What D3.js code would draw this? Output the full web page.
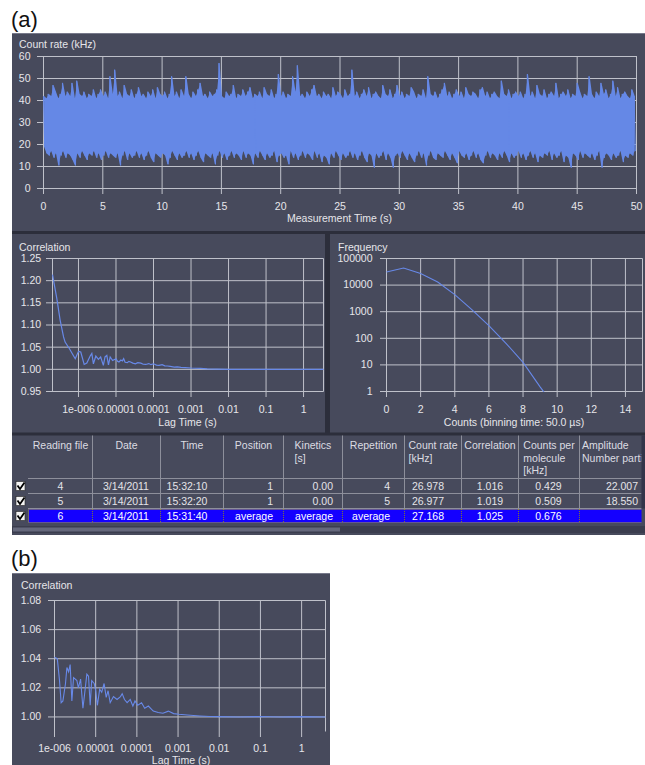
<!DOCTYPE html>
<html>
<head>
<meta charset="utf-8">
<script src="https://cdn.jsdelivr.net/npm/d3@7"></script>
<style>
  html, body { margin: 0; padding: 0; background: #fff; }
  svg { display: block; }
</style>
</head>
<body>
<svg id="fig" width="645" height="765"></svg>
<script>
// ---------- Count-rate trace: per-bin extremes (kHz), bins of 0.2 s ----------
const traceBin = 0.2;
const traceHigh = [
  42,41,43,42,47,44,41,43,48,42,  44,42,48,41,49,43,42,44,41,43,
  42,45,41,43,45,42,44,41,51,43,  54,42,44,41,47,43,42,45,41,43,
  46,42,43,41,44,42,45,41,46,43,  42,44,41,43,51,42,44,41,45,42,
  51,43,41,44,42,45,48,42,43,41,  44,42,43,45,57,42,41,44,42,43,
  47,41,43,42,45,42,44,46,41,43,  42,44,41,46,43,42,45,41,43,52,
  42,44,41,43,42,51,44,56,42,43,  41,44,42,45,47,42,43,41,44,42,
  43,41,46,42,44,43,41,45,42,43,  54,42,44,41,43,45,42,46,41,43,
  44,42,41,47,43,42,45,41,43,47,  42,44,41,43,42,46,44,41,43,42,
  45,41,51,43,42,44,41,43,45,48,  42,44,41,43,45,42,44,41,46,43,
  42,44,43,41,45,46,42,44,41,43,  44,42,41,49,43,42,45,41,43,44,
  42,44,41,43,52,42,44,41,47,43,  42,45,41,43,44,42,48,41,43,44,
  42,45,41,43,42,48,44,41,43,42,  51,43,41,44,42,48,43,45,41,43,
  49,42,46,41,43,44,42,41,45,42
];
const traceLow = [
  19,16,15,17,14,16,10.5,15,17,14,  16,15,13,10.5,16,14,17,15,13,16,
  15,17,14,16,13,15,17,14,16,15,    14,16,10.5,15,17,13,16,14,15,17,
  14,16,13,15,17,14,12,16,15,14,    16,15,11,14,17,15,13,16,14,15,
  17,14,16,13,15,17,14,12,16,15,    14,16,11,15,17,14,16,13,15,17,
  14,16,15,13,17,14,16,15,11,16,    14,17,15,13,16,14,15,17,12,15,
  16,14,15,11,17,14,16,13,15,17,    14,16,15,13,17,14,16,12,15,14,
  11,16,14,17,15,13,16,14,15,17,    14,16,13,15,17,14,12,16,15,9.5,
  16,14,15,17,13,16,14,9.5,15,16,   14,17,15,13,16,14,12,15,17,14,
  16,10.5,15,17,14,13,16,15,14,17,  15,13,16,14,11.5,17,15,14,16,13,
  15,17,14,16,13,11.5,15,17,14,16,  15,13,16,14,17,15,12,16,14,15,
  17,14,16,13,15,17,14,16,12,15,    14,16,15,17,13,16,14,15,17,12,
  15,14,9.5,16,15,13,17,14,16,15,   14,16,13,15,17,9.5,14,16,15,13,
  16,14,15,17,12,15,14,16,15,17
];
const timeTicks = [0,5,10,15,20,25,30,35,40,45,50];
const rateTicks = [0,10,20,30,40,50,60];

// ---------- Correlation of the selected reading ----------
const lagA = [2.03e-7,2.65e-7,3.25e-7,4.0e-7,4.4e-7,5.75e-7,7.1e-7,8.2e-7,1.0e-6,1.15e-6,
  1.42e-6,1.67e-6,2.05e-6,2.27e-6,2.5e-6,2.9e-6,3.4e-6,3.9e-6,4.6e-6,5.1e-6,
  5.7e-6,6.3e-6,7.0e-6,8.1e-6,1.0e-5,1.1e-5,1.2e-5,1.35e-5,1.48e-5,1.6e-5,
  1.75e-5,2.0e-5,2.2e-5,2.45e-5,2.8e-5,3.3e-5,3.8e-5,4.6e-5,5.3e-5,6.2e-5,
  7.5e-5,8.6e-5,1.0e-4,1.2e-4,1.4e-4,1.7e-4,2.0e-4,2.35e-4,2.8e-4,3.55e-4,
  4.3e-4,5.4e-4,7.0e-4,1.0e-3,1.3e-3,1.78e-3,2.7e-3,5e-3,1e-2,0.1,1,3.4];
const corrA = [1.2138,1.1595,1.1106,1.073,1.0615,1.0464,1.0328,1.0238,1.0405,1.039,
  1.011,1.014,1.030,1.036,1.0125,1.030,1.0225,1.028,1.0088,1.028,
  1.0313,1.010,1.028,1.020,1.024,1.018,1.0165,1.021,1.019,1.024,
  1.016,1.015,1.018,1.0165,1.014,1.0125,1.015,1.014,1.0115,1.011,
  1.013,1.0105,1.0125,1.0095,1.009,1.0105,1.008,1.0075,1.0065,1.005,
  1.0055,1.0045,1.004,1.003,1.0025,1.002,1.001,1.0003,1.0,1.0,1.0,1.0];
const lagTicks = [1e-6,1e-5,1e-4,1e-3,1e-2,1e-1,1];
const lagLabels = ["1e-006","0.00001","0.0001","0.001","0.01","0.1","1"];
const corrATicks = [0.95,1.00,1.05,1.10,1.15,1.20,1.25];

// ---------- Photon counting histogram ----------
const photonCounts = [0,1,2,3,4,5,6,7,8,9,10];
const frequency = [31000,44000,27500,13000,4400,1200,300,65,12.5,1.5,0.2];
const countTicks = [0,2,4,6,8,10,12,14];
const freqTicks = [1,10,100,1000,10000,100000];
const freqLabels = ["1","10","100","1000","10000","100000"];

// ---------- Reading table ----------
const readingFile = ["4","5","6"];
const readingDate = ["3/14/2011","3/14/2011","3/14/2011"];
const readingTime = ["15:32:10","15:32:20","15:31:40"];
const position = ["1","1","average"];
const kinetics = ["0.00","0.00","average"];
const repetition = ["4","5","average"];
const countRate = ["26.978","26.977","27.168"];
const correlation = ["1.016","1.019","1.025"];
const countsPerMolecule = ["0.429","0.509","0.676"];
const amplitude = ["22.007","18.550",""];
const headers = [["Reading file"],["Date"],["Time"],["Position"],["Kinetics","[s]"],
  ["Repetition"],["Count rate","[kHz]"],["Correlation"],["Counts per","molecule","[kHz]"],
  ["Amplitude","Number parti"]];

// ---------- Correlation of the averaged reading ----------
const lagB = [1e-6,1.17e-6,1.32e-6,1.45e-6,1.6e-6,1.85e-6,2.0e-6,2.2e-6,2.4e-6,2.64e-6,
  2.9e-6,3.5e-6,3.8e-6,4.3e-6,4.9e-6,5.6e-6,6.1e-6,6.7e-6,7.35e-6,8e-6,
  9.2e-6,1.0e-5,1.1e-5,1.25e-5,1.4e-5,1.6e-5,1.8e-5,2.0e-5,2.25e-5,2.7e-5,
  3.3e-5,4e-5,4.4e-5,5e-5,5.8e-5,6.9e-5,8e-5,9e-5,1.05e-4,1.3e-4,
  1.55e-4,1.9e-4,2.5e-4,3.3e-4,4.3e-4,5.8e-4,7.8e-4,1.05e-3,1.67e-3,3.4e-3,
  6e-3,0.01,0.03,0.1,0.3,1,3.8];
const corrB = [1.041,1.040,1.0253,1.0098,1.011,1.023,1.034,1.031,1.036,1.011,
  1.027,1.025,1.020,1.026,1.006,1.020,1.0294,1.028,1.008,1.025,
  1.023,1.018,1.008,1.019,1.017,1.023,1.0135,1.018,1.0098,1.014,
  1.012,1.014,1.016,1.012,1.0098,1.012,1.0075,1.011,1.008,1.0098,
  1.006,1.0075,1.004,1.003,1.0025,1.004,1.0023,1.0018,1.0013,1.0007,
  1.0003,1.0002,1.0,1.0003,1.0,1.0002,1.0];
const corrBTicks = [1.00,1.02,1.04,1.06,1.08];

// ---------- drawing ----------
const FONT = '"Liberation Sans", Arial, Helvetica, sans-serif';
const COL = { panel: "#474a5c", gap: "#2c2e3b", edge: "#77798a", grid: "#bfc1ca",
              text: "#e6e6ea", line: "#6889e8", trace: "#6588e6" };
const svg = d3.select("#fig").style("font-family", FONT);

svg.append("rect").attr("width", 645).attr("height", 765).attr("fill", "#fff");
svg.append("text").attr("x", 11).attr("y", 27).attr("font-size", 22).attr("fill", "#111").text("(a)");
svg.append("text").attr("x", 11).attr("y", 566).attr("font-size", 22).attr("fill", "#111").text("(b)");

// panel backgrounds
svg.append("rect").attr("x", 12).attr("y", 33).attr("width", 633).attr("height", 502).attr("fill", COL.gap);
[[12, 33, 633, 198], [12, 234, 313, 198.5], [330, 234, 315, 198.5], [12, 435.5, 633, 99.5], [12, 573, 318, 192]]
  .forEach(([x, y, w, h]) => svg.append("rect").attr("x", x).attr("y", y).attr("width", w).attr("height", h).attr("fill", COL.panel));
svg.append("line").attr("x1", 12).attr("x2", 645).attr("y1", 33.5).attr("y2", 33.5).attr("stroke", COL.edge);
svg.append("line").attr("x1", 12).attr("x2", 330).attr("y1", 573.5).attr("y2", 573.5).attr("stroke", COL.edge);

let clipId = 0;
function chartFrame(cfg) {
  const { x, y, xTicks, xFmt, yTicks, yFmt, yPad, xPad, frame } = cfg;
  const [x0, x1] = x.range(), [y0, y1] = y.range();
  const g = svg.append("g");
  const styleAxis = s => {
    s.select(".domain").remove();
    s.selectAll(".tick line").attr("stroke", COL.grid).attr("stroke-width", 1);
    s.selectAll(".tick text").attr("fill", COL.text).attr("font-size", 10.5).attr("font-family", FONT);
  };
  // grid
  g.append("g").attr("transform", `translate(0,${y0})`)
    .call(d3.axisBottom(x).tickValues(xTicks).tickSize(-(y0 - y1)).tickFormat(""))
    .call(styleAxis);
  g.append("g").attr("transform", `translate(${x0},0)`)
    .call(d3.axisLeft(y).tickValues(yTicks).tickSize(-(x1 - x0)).tickFormat(""))
    .call(styleAxis);
  // outer ticks + labels
  g.append("g").attr("transform", `translate(0,${y0})`)
    .call(d3.axisBottom(x).tickValues(xTicks).tickSize(6).tickPadding(xPad).tickFormat(xFmt))
    .call(styleAxis);
  g.append("g").attr("transform", `translate(${x0},0)`)
    .call(d3.axisLeft(y).tickValues(yTicks).tickSize(6).tickPadding(yPad).tickFormat(yFmt))
    .call(styleAxis);
  // frame edges
  const fr = g.append("g").attr("stroke", COL.grid).attr("fill", "none");
  if (frame.includes("l")) fr.append("line").attr("x1", x0 + .5).attr("x2", x0 + .5).attr("y1", y1 + .5).attr("y2", y0 + .5);
  if (frame.includes("r")) fr.append("line").attr("x1", x1 + .5).attr("x2", x1 + .5).attr("y1", y1 + .5).attr("y2", y0 + .5);
  if (frame.includes("t")) fr.append("line").attr("x1", x0 + .5).attr("x2", x1 + .5).attr("y1", y1 + .5).attr("y2", y1 + .5);
  if (frame.includes("b")) fr.append("line").attr("x1", x0 + .5).attr("x2", x1 + .5).attr("y1", y0 + .5).attr("y2", y0 + .5);
  const id = "plotclip" + (clipId++);
  svg.append("clipPath").attr("id", id).append("rect")
    .attr("x", x0).attr("y", y1).attr("width", x1 - x0 + 1).attr("height", y0 - y1 + 1);
  return svg.append("g").attr("clip-path", `url(#${id})`);
}
function label(x, y, txt, anchor) {
  svg.append("text").attr("x", x).attr("y", y).attr("text-anchor", anchor || "start")
    .attr("fill", COL.text).attr("font-size", 10.5).text(txt);
}

// ---- count rate trace ----
const xT = d3.scaleLinear().domain([0, 50]).range([43, 636]);
const yT = d3.scaleLinear().domain([0, 60]).range([188, 56]);
const gT = chartFrame({ x: xT, y: yT, xTicks: timeTicks, xFmt: d3.format("d"), yTicks: rateTicks,
  yFmt: d3.format("d"), xPad: 8.5, yPad: 6.5, frame: "lrtb" });
const traceBins = traceHigh.map((h, i) => ({ t: i * traceBin, hi: h, lo: traceLow[i] }));
// band covered by the densely oscillating trace
gT.append("path").datum(traceBins)
  .attr("d", d3.area().x(d => xT(d.t + traceBin / 4) + .5).y0(d => yT(d.lo) + .5).y1(d => yT(d.hi) + .5))
  .attr("fill", COL.trace);
// the trace itself, swinging between the extremes of every bin
const tracePts = [];
traceBins.forEach(d => {
  tracePts.push([d.t, d.hi]);
  tracePts.push([d.t + traceBin / 2, d.lo]);
});
gT.append("path").datum(tracePts)
  .attr("d", d3.line().x(d => xT(d[0]) + .5).y(d => yT(d[1]) + .5))
  .attr("fill", "none").attr("stroke", COL.trace).attr("stroke-width", 1);
label(19, 47.5, "Count rate (kHz)");
label(339.5, 221.8, "Measurement Time (s)", "middle");

// ---- correlation (selected reading) ----
const xA = d3.scaleLog().domain([2.03e-7, 3.4]).range([52, 323]);
const yA = d3.scaleLinear().domain([0.95, 1.25]).range([391, 258]);
const gA = chartFrame({ x: xA, y: yA, xTicks: lagTicks, xFmt: (d, i) => lagLabels[i], yTicks: corrATicks,
  yFmt: d3.format(".2f"), xPad: 8.5, yPad: 4.8, frame: "lrtb" });
gA.append("path").datum(lagA.map((t, i) => [t, corrA[i]]))
  .attr("d", d3.line().x(d => xA(d[0]) + .5).y(d => yA(d[1]) + .5))
  .attr("fill", "none").attr("stroke", COL.line).attr("stroke-width", 1.2);
label(19, 250.5, "Correlation");
label(187.5, 425.5, "Lag Time (s)", "middle");

// ---- photon counting histogram ----
const xF = d3.scaleLinear().domain([0, 15]).range([386, 642]);
const yF = d3.scaleLog().domain([1, 100000]).range([391, 258]);
const gF = chartFrame({ x: xF, y: yF, xTicks: countTicks, xFmt: d3.format("d"), yTicks: freqTicks,
  yFmt: (d, i) => freqLabels[i], xPad: 8.5, yPad: 7.5, frame: "lrtb" });
gF.append("path").datum(photonCounts.map((c, i) => [c, frequency[i]]))
  .attr("d", d3.line().x(d => xF(d[0]) + .5).y(d => yF(d[1]) + .5))
  .attr("fill", "none").attr("stroke", COL.line).attr("stroke-width", 1.1);
label(338, 250.5, "Frequency");
label(514, 425.5, "Counts (binning time: 50.0 \u00b5s)", "middle");

// ---- reading table ----
const colEdges = [28.5, 92.5, 160.5, 223.5, 283.5, 342.5, 404.5, 461.5, 518.5, 579.5, 700];
const cellAnchor = [["middle", 60.5], ["middle", 126], ["middle", 187], ["end", 273], ["end", 333],
  ["end", 390], ["middle", 428], ["middle", 490], ["middle", 548.5], ["end", 638]];
const rowTops = [478.5, 493.5, 508.5];
const tableCols = [readingFile, readingDate, readingTime, position, kinetics, repetition,
  countRate, correlation, countsPerMolecule, amplitude];
svg.append("clipPath").attr("id", "tableclip").append("rect")
  .attr("x", 12).attr("y", 435).attr("width", 629.5).attr("height", 100);
const tg = svg.append("g").attr("clip-path", "url(#tableclip)");
// highlighted (averaged) row
tg.append("rect").attr("x", 28.5).attr("y", 509).attr("width", 620).attr("height", 14).attr("fill", "#1400ff");
// rules
colEdges.slice(1, -1).forEach(cx => {
  tg.append("line").attr("x1", cx).attr("x2", cx).attr("y1", 435.5).attr("y2", 508.5).attr("stroke", "#8d8f9b");
  tg.append("line").attr("x1", cx).attr("x2", cx).attr("y1", 509).attr("y2", 523)
    .attr("stroke", "#7f7a30").attr("stroke-dasharray", "1,1");
});
rowTops.forEach(ry => tg.append("line").attr("x1", 28).attr("x2", 645).attr("y1", ry).attr("y2", ry).attr("stroke", "#8d8f9b"));
tg.append("rect").attr("x", 28.5).attr("y", 509.5).attr("width", 620).attr("height", 13)
  .attr("fill", "none").attr("stroke", "#b5ad2a").attr("stroke-dasharray", "1,1");
// header text
const headerBase = [449.2, 461.6, 474.2];
headers.forEach((lines, c) => {
  const left = colEdges[c], right = colEdges[c + 1];
  const texts = lines.map((ln, k) => tg.append("text").attr("y", headerBase[k]).attr("fill", "#dcdce2")
    .attr("font-size", 10.5).text(ln));
  const w = d3.max(texts, t => t.node().getComputedTextLength());
  const colW = Math.min(right, 641) - left;
  const bx = w < colW - 4 ? (left + Math.min(right, 641)) / 2 - w / 2 : left + 2.5;
  if (lines.length === 1) texts.forEach(t => t.attr("x", (left + right) / 2).attr("text-anchor", "middle"));
  else texts.forEach(t => t.attr("x", c === headers.length - 1 ? left + 2.5 : bx));
});
// cells
tableCols.forEach((vals, c) => {
  vals.forEach((v, r) => {
    tg.append("text").attr("x", cellAnchor[c][1]).attr("y", rowTops[r] + 11.2)
      .attr("text-anchor", cellAnchor[c][0]).attr("fill", r === 2 ? "#ffffff" : "#e4e4e8")
      .attr("font-size", 10.5).text(v);
  });
});
// check boxes
rowTops.forEach(ry => {
  const cy = ry + 7.5;
  svg.append("rect").attr("x", 16).attr("y", cy - 4.5).attr("width", 9).attr("height", 9)
    .attr("fill", "#f4f4f4").attr("stroke", "#222").attr("stroke-width", 0.6);
  svg.append("path").attr("d", `M17.5,${cy - 0.5} L20,${cy + 3} L24.5,${cy - 3.5}`)
    .attr("fill", "none").attr("stroke", "#000").attr("stroke-width", 1.8);
});
// scroll bars
svg.append("rect").attr("x", 641.5).attr("y", 435.5).attr("width", 3.5).attr("height", 73).attr("fill", "#33354a");
svg.append("rect").attr("x", 12).attr("y", 526).attr("width", 633).attr("height", 7).attr("fill", "#3b3d4e");
svg.append("rect").attr("x", 13).attr("y", 527.5).attr("width", 327).attr("height", 4).attr("fill", "#65687c");

// ---- correlation (averaged) ----
const xB = d3.scaleLog().domain([1e-6, 3.8]).range([54, 325]);
const yB = d3.scaleLinear().domain([0.99, 1.08]).range([731, 600]);
const gB = chartFrame({ x: xB, y: yB, xTicks: lagTicks, xFmt: (d, i) => lagLabels[i], yTicks: corrBTicks,
  yFmt: d3.format(".2f"), xPad: 8, yPad: 6.8, frame: "lrt" });
gB.append("path").datum(lagB.map((t, i) => [t, corrB[i]]))
  .attr("d", d3.line().x(d => xB(d[0]) + .5).y(d => yB(d[1]) + .5))
  .attr("fill", "none").attr("stroke", COL.line).attr("stroke-width", 1.1);
label(21, 588.5, "Correlation");
label(181, 763.5, "Lag Time (s)", "middle");
</script>
</body>
</html>
